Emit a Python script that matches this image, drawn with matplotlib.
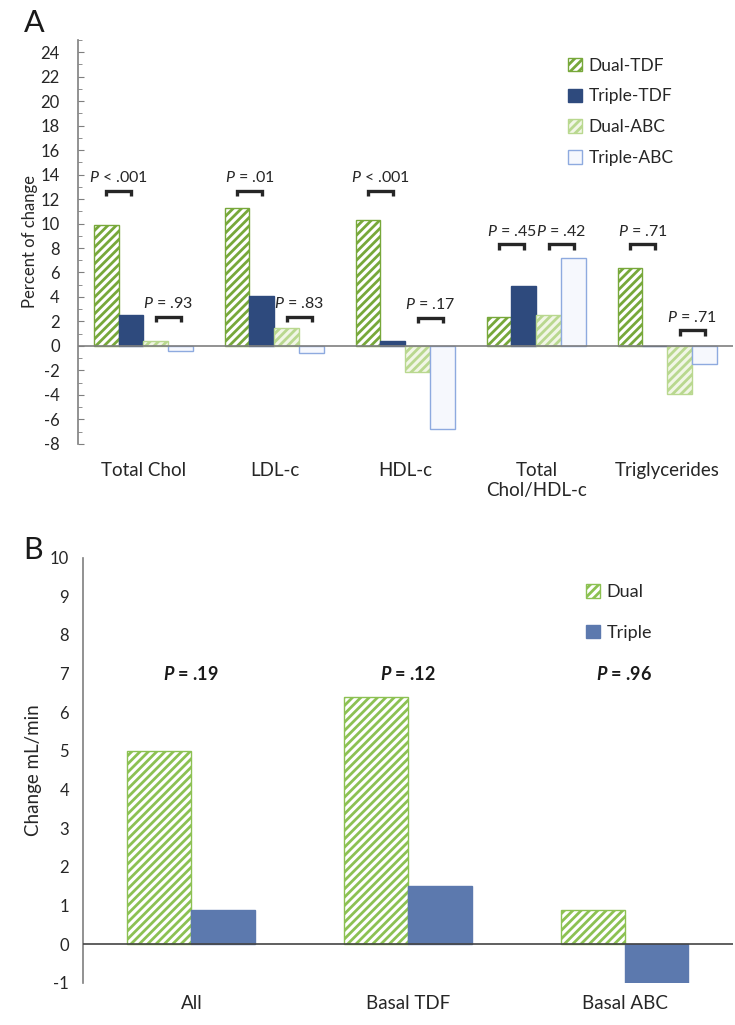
import numpy as np
import matplotlib.pyplot as plt
from matplotlib.ticker import MultipleLocator

# ---- data (panel A) ----
lipid_cats = ["Total Chol", "LDL-c", "HDL-c", "Total\nChol/HDL-c", "Triglycerides"]
dual_tdf = [9.9, 11.3, 10.3, 2.4, 6.4]
triple_tdf = [2.5, 4.1, 0.4, 4.9, 0.0]
dual_abc = [0.4, 1.5, -2.1, 2.5, -3.9]
triple_abc = [-0.4, -0.6, -6.8, 7.2, -1.5]
p_tdf = ["< .001", "= .01", "< .001", "= .45", "= .71"]
p_abc = ["= .93", "= .83", "= .17", "= .42", "= .71"]
p_tdf_level = [12.7, 12.7, 12.7, 8.3, 8.3]
p_abc_level = [2.4, 2.4, 2.3, 8.3, 1.3]

# ---- data (panel B) ----
egfr_cats = ["All", "Basal TDF", "Basal ABC"]
egfr_dual = [5.0, 6.4, 0.9]
egfr_triple = [0.9, 1.5, -1.0]
egfr_p = ["= .19", "= .12", "= .96"]
egfr_p_level = 7.0

base = "Lato"
plt.rcParams["font.family"] = [base, "DejaVu Sans"]
plt.rcParams["mathtext.fontset"] = "custom"
plt.rcParams["mathtext.rm"] = base
plt.rcParams["mathtext.it"] = base + ":italic"
plt.rcParams["mathtext.bf"] = base + ":bold"
plt.rcParams["mathtext.bfit"] = base + ":italic:bold"
plt.rcParams["axes.unicode_minus"] = False
plt.rcParams["hatch.linewidth"] = 2.0

GREEN = "#77a83a"
NAVY = "#2e4a7d"
PALE_GREEN = "#b9d88f"
PALE_BLUE = "#8eaadf"
AXC = "#7f7f7f"
TXT = "#262626"

fig = plt.figure(figsize=(7.35, 10.25), dpi=100)

# ---------------- panel A ----------------
axA = fig.add_axes([0.106, 0.567, 0.891, 0.394])
x = np.arange(len(lipid_cats))
w = 0.19
offs = np.array([-1.5, -0.5, 0.5, 1.5]) * w
axA.bar(x + offs[0], dual_tdf, w, color="white", edgecolor=GREEN, hatch="////", lw=1, label="Dual-TDF")
axA.bar(x + offs[1], triple_tdf, w, color=NAVY, edgecolor=NAVY, lw=1, label="Triple-TDF")
axA.bar(x + offs[2], dual_abc, w, color="#f1f6e6", edgecolor=PALE_GREEN, hatch="////", lw=1, label="Dual-ABC")
axA.bar(x + offs[3], triple_abc, w, color="#f6f8fd", edgecolor=PALE_BLUE, lw=1, label="Triple-ABC")

def bracket(ax, x1, x2, y, leg):
    ax.plot([x1, x1, x2, x2], [y - leg, y, y, y - leg], color=TXT, lw=2.4,
            solid_joinstyle="miter", solid_capstyle="butt", zorder=5)

for i in range(len(lipid_cats)):
    x1, x2 = x[i] + offs[0], x[i] + offs[1]
    bracket(axA, x1, x2, p_tdf_level[i], 0.45)
    axA.text((x1 + x2) / 2, p_tdf_level[i] + 0.45, r"$\it{P}$ " + p_tdf[i], ha="center", va="bottom",
             fontsize=11.5, color=TXT)
    x1, x2 = x[i] + offs[2], x[i] + offs[3]
    bracket(axA, x1, x2, p_abc_level[i], 0.45)
    axA.text((x1 + x2) / 2, p_abc_level[i] + 0.45, r"$\it{P}$ " + p_abc[i], ha="center", va="bottom",
             fontsize=11.5, color=TXT)

axA.set_xlim(-0.5, len(lipid_cats) - 0.5)
axA.set_ylim(-8, 25)
axA.yaxis.set_minor_locator(MultipleLocator(1))
axA.set_yticks(np.arange(-8, 25, 2))
axA.tick_params(axis="y", which="both", direction="in", color=AXC, labelsize=12, labelcolor=TXT, pad=13)
axA.tick_params(axis="y", which="major", length=4)
axA.tick_params(axis="y", which="minor", length=3)
axA.set_xticks(x)
axA.set_xticklabels(lipid_cats, fontsize=13.5, color=TXT)
axA.tick_params(axis="x", length=0, pad=13)
for s in ["top", "right", "bottom"]:
    axA.spines[s].set_visible(False)
axA.spines["left"].set_color(AXC)
axA.spines["left"].set_linewidth(1.2)
axA.axhline(0, color=AXC, lw=1.2, zorder=4)
axA.set_ylabel("Percent of change", fontsize=12, color=TXT, labelpad=2)
axA.legend(loc="upper left", bbox_to_anchor=(0.752, 0.959), bbox_transform=fig.transFigure,
           frameon=False, fontsize=12.5, labelspacing=0.85, handlelength=0.8, handleheight=0.8,
           handletextpad=0.35, labelcolor=TXT)
fig.text(0.032, 0.978, "A", fontsize=22, color="#1a1a1a", va="center")

# ---------------- panel B ----------------
axB = fig.add_axes([0.113, 0.041, 0.884, 0.415])
xb = np.arange(len(egfr_cats))
wb = 0.295
axB.bar(xb - wb / 2, egfr_dual, wb, color="white", edgecolor="#8cc152", hatch="////", lw=1, label="Dual")
axB.bar(xb + wb / 2, egfr_triple, wb, color="#5c79ae", edgecolor="#5c79ae", lw=1, label="Triple")
for i in range(len(egfr_cats)):
    axB.text(xb[i], egfr_p_level, r"$\mathbfit{P}$ " + egfr_p[i], ha="center", va="center",
             fontsize=13, fontweight="bold", color="#1a1a1a")
axB.set_xlim(-0.5, len(egfr_cats) - 0.5)
axB.set_ylim(-1, 10)
axB.set_yticks(np.arange(-1, 11, 1))
axB.tick_params(axis="y", direction="out", length=0, color=AXC, labelsize=12, labelcolor=TXT, pad=10)
axB.set_xticks(xb)
axB.set_xticklabels(egfr_cats, fontsize=13.5, color=TXT)
axB.tick_params(axis="x", length=0, pad=9)
for s in ["top", "right", "bottom"]:
    axB.spines[s].set_visible(False)
axB.spines["left"].set_color(AXC)
axB.spines["left"].set_linewidth(1.2)
axB.axhline(0, color="#444444", lw=1.2, zorder=4)
axB.set_ylabel("Change mL/min", fontsize=13.5, color=TXT, labelpad=6)
axB.legend(loc="upper left", bbox_to_anchor=(0.775, 0.446), bbox_transform=fig.transFigure,
           frameon=False, fontsize=13, labelspacing=1.35, handlelength=0.8, handleheight=0.8,
           handletextpad=0.35, labelcolor=TXT)
fig.text(0.032, 0.463, "B", fontsize=22, color="#1a1a1a", va="center")

fig.savefig("out.png", dpi=100, facecolor="white")
